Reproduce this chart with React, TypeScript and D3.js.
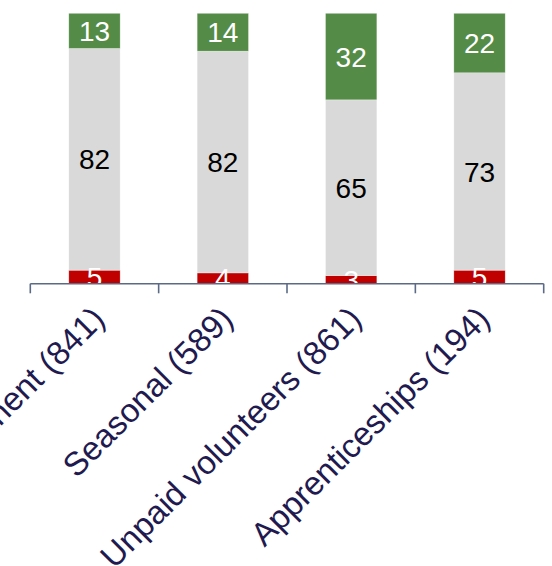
import React from "react";
import * as d3 from "d3";

// Share of respondents per placement type, stacked to 100%
const categories = [
  "Permanent (841)",
  "Seasonal (589)",
  "Unpaid volunteers (861)",
  "Apprenticeships (194)",
];
const negative = [5, 4, 3, 5];
const neutral = [82, 82, 65, 73];
const positive = [13, 14, 32, 22];

const seriesKeys = ["negative", "neutral", "positive"] as const;
const seriesColors: Record<string, string> = {
  negative: "#C00000",
  neutral: "#D9D9D9",
  positive: "#548B46",
};
const labelColors: Record<string, string> = {
  negative: "#FFFFFF",
  neutral: "#000000",
  positive: "#FFFFFF",
};

const W = 552;
const H = 566;
const FONT = "'Liberation Sans', Arial, sans-serif";

export default function App() {
  const rows = categories.map((c, i) => ({
    category: c,
    negative: negative[i],
    neutral: neutral[i],
    positive: positive[i],
  }));

  const x = d3
    .scaleBand<string>()
    .domain(categories)
    .range([30.3, 543.7])
    .paddingInner(0.6)
    .paddingOuter(0.3);
  const step = x.step();
  const axisLeft = 30.3;

  const y = d3.scaleLinear().domain([0, 100]).range([283.7, 13.3]);

  const stacked = d3.stack<any>().keys(seriesKeys as unknown as string[])(rows);

  const axisY = y(0);
  const tickXs = d3.range(categories.length + 1).map((i) => axisLeft + i * step);

  return (
    <div style={{ position: "absolute", left: 0, top: 0 }}>
      <svg width={W} height={H} style={{ display: "block" }}>
        <rect width={W} height={H} fill="#FFFFFF" />
        {stacked.map((layer) => (
          <g key={layer.key}>
            {layer.map((d, i) => {
              const cat = categories[i];
              const y0 = y(d[0]);
              const y1 = y(d[1]);
              return (
                <rect
                  key={cat}
                  x={x(cat)}
                  y={y1}
                  width={x.bandwidth()}
                  height={y0 - y1}
                  fill={seriesColors[layer.key]}
                  stroke="#FFFFFF"
                  strokeOpacity={0.5}
                  strokeWidth={0.6}
                />
              );
            })}
          </g>
        ))}
        {stacked.map((layer) => (
          <g key={"lab-" + layer.key}>
            {layer.map((d, i) => {
              const cat = categories[i];
              const cx = (x(cat) as number) + x.bandwidth() / 2;
              const cy = (y(d[0]) + y(d[1])) / 2;
              return (
                <text
                  key={cat}
                  x={cx}
                  y={cy}
                  dy="0.36em"
                  textAnchor="middle"
                  fontFamily={FONT}
                  fontSize={28}
                  fill={labelColors[layer.key]}
                >
                  {d[1] - d[0]}
                </text>
              );
            })}
          </g>
        ))}
        {/* category axis */}
        <g stroke="#5B6B85" strokeWidth={1.6} fill="none">
          <line x1={axisLeft} x2={tickXs[tickXs.length - 1]} y1={axisY} y2={axisY} />
          {tickXs.map((tx, i) => (
            <line key={i} x1={tx} x2={tx} y1={axisY} y2={axisY + 9.6} />
          ))}
        </g>
        {categories.map((c) => {
          const cx = (x(c) as number) + x.bandwidth() / 2;
          return (
            <text
              key={c}
              transform={`translate(${cx + 12},${axisY + 37}) rotate(-45)`}
              textAnchor="end"
              fontFamily={FONT}
              fontSize={33}
              fill="#1F1A4F"
            >
              {c}
            </text>
          );
        })}
      </svg>
    </div>
  );
}
